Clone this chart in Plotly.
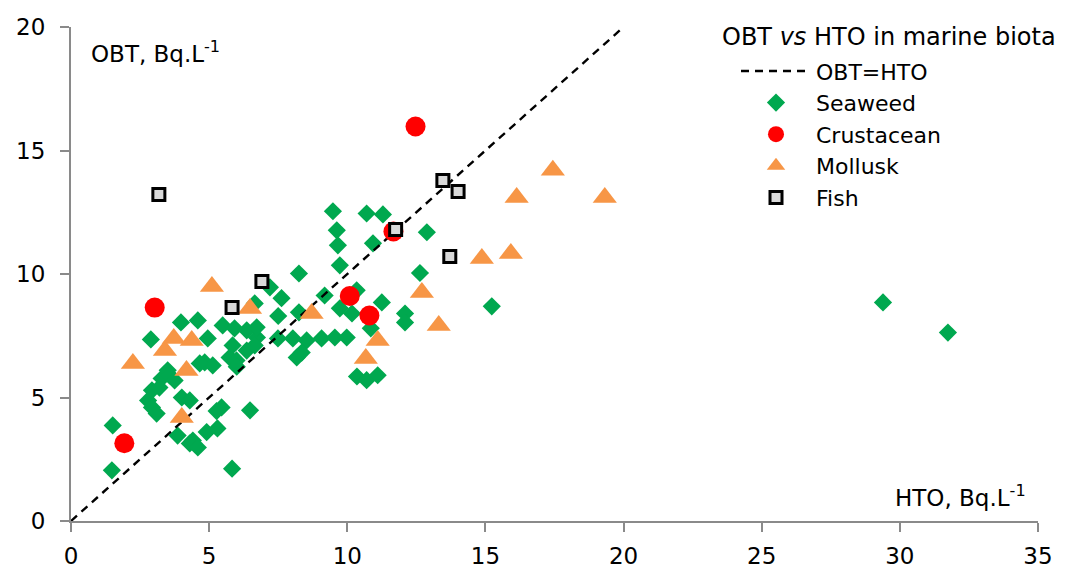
import plotly.graph_objects as go

# ---- data ----
seaweed_x = [1.48, 1.51, 2.79, 2.93, 2.93, 3.10, 2.89, 3.20, 3.28, 3.50, 3.57, 3.75, 3.86, 3.98,
             4.01, 4.30, 4.30, 4.41, 4.59, 4.59, 4.95, 4.84, 5.13, 4.66, 5.27, 5.45, 4.91, 5.30,
             5.49, 5.92, 5.85, 5.74, 5.99, 6.00, 6.36, 6.36, 6.73, 6.72, 6.65, 6.65, 6.48, 5.83,
             7.20, 7.62, 7.50, 8.25, 7.49, 8.03, 8.53, 9.07, 9.55, 9.98, 8.17, 8.35, 8.25, 9.18,
             9.73, 9.48, 9.62, 9.66, 10.70, 11.29, 10.93, 10.34, 9.73, 10.17, 11.25, 10.85, 10.35,
             10.70, 11.10, 12.09, 12.09, 12.88, 12.63, 15.23, 29.39, 31.74]
seaweed_y = [2.05, 3.87, 4.88, 5.29, 4.60, 4.35, 7.35, 5.40, 5.77, 6.10, 5.89, 5.69, 3.46, 8.04,
             5.00, 4.88, 3.14, 3.26, 2.98, 8.12, 7.39, 6.42, 6.30, 6.38, 4.45, 4.60, 3.60, 3.75,
             7.92, 7.80, 7.11, 6.62, 6.50, 6.25, 6.90, 7.72, 7.43, 7.84, 8.81, 7.11, 4.48, 2.12,
             9.46, 9.02, 8.30, 8.45, 7.39, 7.39, 7.31, 7.39, 7.43, 7.43, 6.62, 6.82, 10.02, 9.13,
             10.35, 12.54, 11.77, 11.16, 12.45, 12.41, 11.24, 9.34, 8.61, 8.40, 8.85, 7.80, 5.85,
             5.70, 5.90, 8.40, 8.04, 11.69, 10.04, 8.69, 8.85, 7.63]

crustacean_x = [1.93, 3.03, 12.47, 10.09, 10.80, 11.67]
crustacean_y = [3.15, 8.64, 15.97, 9.11, 8.32, 11.72]

mollusk_x = [2.24, 3.40, 3.72, 4.37, 4.18, 4.01, 5.10, 6.48, 8.71, 10.67, 11.10, 12.70, 13.31,
             14.87, 15.92, 16.13, 17.44, 19.32]
mollusk_y = [6.38, 6.90, 7.39, 7.31, 6.09, 4.19, 9.49, 8.60, 8.40, 6.58, 7.31, 9.25, 7.92,
             10.63, 10.83, 13.10, 14.20, 13.10]

fish_x = [3.18, 5.83, 6.91, 11.75, 13.46, 14.01, 13.71]
fish_y = [13.22, 8.64, 9.70, 11.80, 13.79, 13.34, 10.71]

line_x = [0, 20]
line_y = [0, 20]

x_ticks = [0, 5, 10, 15, 20, 25, 30, 35]
y_ticks = [0, 5, 10, 15, 20]

FONT = "DejaVu Sans"
AXIS_COL = "#8a8a8a"

fig = go.Figure()

fig.add_trace(go.Scatter(
    x=seaweed_x, y=seaweed_y, mode="markers", name="Seaweed", legendrank=2,
    marker=dict(symbol="diamond", size=14, color="#00a84f", line=dict(width=0)),
))
fig.add_trace(go.Scatter(
    x=line_x, y=line_y, mode="lines", name="OBT=HTO", legendrank=1,
    line=dict(color="black", width=2.4, dash="8px,6px"),
))
fig.add_trace(go.Scatter(
    x=crustacean_x, y=crustacean_y, mode="markers", name="Crustacean", legendrank=3,
    marker=dict(symbol="circle", size=20, color="#ff0000", line=dict(width=0)),
))
fig.add_trace(go.Scatter(
    x=mollusk_x, y=mollusk_y, mode="markers", name="Mollusk", legendrank=4,
    marker=dict(symbol="triangle-up", size=21, color="#f79646", line=dict(width=0)),
))
fig.add_trace(go.Scatter(
    x=fish_x, y=fish_y, mode="markers", name="Fish", legendrank=5,
    marker=dict(symbol="square", size=12, color="#d9d9d9", line=dict(color="black", width=3)),
))

fig.update_layout(
    width=1067, height=573,
    margin=dict(l=63, r=37, t=19, b=60),
    paper_bgcolor="white", plot_bgcolor="white",
    font=dict(family=FONT, size=22, color="black"),
    showlegend=True,
    legend=dict(
        x=0.6877, y=0.953, xanchor="left", yanchor="top",
        bgcolor="rgba(0,0,0,0)", borderwidth=0,
        font=dict(family=FONT, size=22, color="black"),
        itemwidth=70, tracegroupgap=0,
    ),
    xaxis=dict(
        range=[0, 35], tickvals=x_ticks, ticktext=[str(v) for v in x_ticks],
        showgrid=False, zeroline=False, showline=True, linecolor=AXIS_COL, linewidth=2,
        ticks="outside", ticklen=9, tickwidth=2, tickcolor=AXIS_COL,
        tickfont=dict(family=FONT, size=23, color="black"), automargin=False,
        ticklabelstandoff=4,
    ),
    yaxis=dict(
        range=[0, 20], tickvals=y_ticks, ticktext=[str(v) for v in y_ticks],
        showgrid=False, zeroline=False, showline=True, linecolor=AXIS_COL, linewidth=2,
        ticks="outside", ticklen=9, tickwidth=2, tickcolor=AXIS_COL,
        tickfont=dict(family=FONT, size=23, color="black"), automargin=False,
        ticklabelstandoff=10,
    ),
    annotations=[
        dict(text="OBT <i>vs</i> HTO in marine biota", xref="paper", yref="paper",
             x=0.671, y=0.979, xanchor="left", yanchor="middle", showarrow=False,
             font=dict(family=FONT, size=24, color="black")),
        dict(text="OBT, Bq.L<sup>-1</sup>", xref="paper", yref="paper",
             x=0.019, y=0.95, xanchor="left", yanchor="middle", showarrow=False,
             font=dict(family=FONT, size=23, color="black")),
        dict(text="HTO, Bq.L<sup>-1</sup>", xref="paper", yref="paper",
             x=0.99, y=0.05, xanchor="right", yanchor="middle", showarrow=False,
             font=dict(family=FONT, size=23, color="black")),
    ],
)

fig.write_html("out.html")
